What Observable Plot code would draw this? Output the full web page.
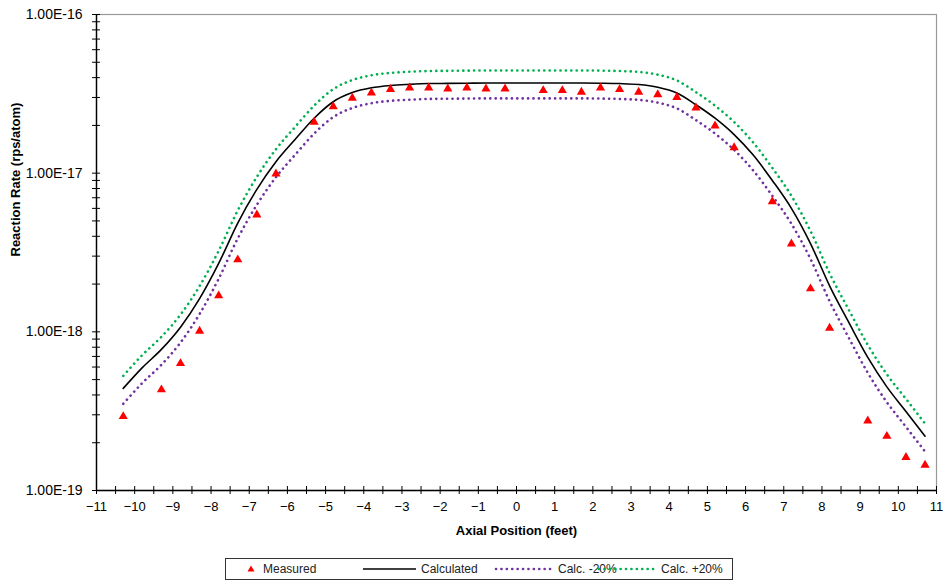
<!DOCTYPE html>
<html><head><meta charset="utf-8">
<script src="https://cdn.jsdelivr.net/npm/d3@7"></script>
<script src="https://cdn.jsdelivr.net/npm/@observablehq/plot@0.6"></script>
<style>
body{margin:0;background:#fff;font-family:"Liberation Sans",Arial,sans-serif;}
#wrap{position:relative;width:945px;height:581px;overflow:hidden;}
#legend{position:absolute;left:225px;top:558px;width:508px;height:22px;border:1px solid #333;box-sizing:border-box;font-size:12px;color:#222;}
#legend .t{position:absolute;top:3px;line-height:14px;white-space:nowrap;}
#legend svg{position:absolute;top:0;}
</style></head>
<body><div id="wrap"><div id="chart"></div>
<div id="legend">
  <svg style="left:18px" width="14" height="20"><path d="M7,6.5 L10.5,12.5 L3.5,12.5 Z" fill="#ff0000"/></svg>
  <span class="t" style="left:37px">Measured</span>
  <svg style="left:137px" width="54" height="20"><line x1="0" y1="10" x2="53" y2="10" stroke="#000" stroke-width="1.6"/></svg>
  <span class="t" style="left:195px">Calculated</span>
  <svg style="left:268px" width="60" height="20"><line x1="2" y1="10" x2="58" y2="10" stroke="#7030a0" stroke-width="2.6" stroke-dasharray="0.1,5.3" stroke-linecap="round"/></svg>
  <span class="t" style="left:332px">Calc. -20%</span>
  <svg style="left:371px" width="62" height="20"><line x1="2" y1="10" x2="60" y2="10" stroke="#00b050" stroke-width="2.6" stroke-dasharray="0.1,5.3" stroke-linecap="round"/></svg>
  <span class="t" style="left:435px">Calc. +20%</span>
</div></div>
<script>
// Measured data
const measuredX = [-10.3,-9.3,-8.8,-8.3,-7.8,-7.3,-6.8,-6.3,-5.3,-4.8,-4.3,-3.8,-3.3,-2.8,-2.3,-1.8,-1.3,-0.8,-0.3,0.7,1.2,1.7,2.2,2.7,3.2,3.7,4.2,4.7,5.2,5.7,6.7,7.2,7.7,8.2,9.2,9.7,10.2,10.7];
const measuredY = [2.93e-19,4.32e-19,6.32e-19,1.01e-18,1.69e-18,2.85e-18,5.47e-18,9.91e-18,2.10e-17,2.63e-17,2.97e-17,3.21e-17,3.38e-17,3.45e-17,3.45e-17,3.40e-17,3.45e-17,3.40e-17,3.40e-17,3.32e-17,3.32e-17,3.24e-17,3.45e-17,3.37e-17,3.24e-17,3.13e-17,3.01e-17,2.58e-17,1.99e-17,1.45e-17,6.63e-18,3.59e-18,1.87e-18,1.055e-18,2.75e-19,2.20e-19,1.62e-19,1.445e-19];

// Calculated curves
const calcX = [-10.3,-9.8,-9.3,-8.8,-8.3,-7.8,-7.3,-6.8,-6.3,-5.8,-5.3,-4.8,-4.3,-3.8,-3.3,-2.8,-2.3,-1.8,-1.3,-0.8,-0.3,0.2,0.7,1.2,1.7,2.2,2.7,3.2,3.7,4.2,4.7,5.2,5.7,6.2,6.7,7.2,7.7,8.2,8.7,9.2,9.7,10.2,10.7];
const calcY = [4.40e-19,5.95e-19,7.75e-19,1.07e-18,1.62e-18,2.70e-18,4.85e-18,7.90e-18,1.18e-17,1.63e-17,2.22e-17,2.82e-17,3.22e-17,3.45e-17,3.57e-17,3.63e-17,3.67e-17,3.68e-17,3.69e-17,3.70e-17,3.70e-17,3.70e-17,3.70e-17,3.70e-17,3.70e-17,3.69e-17,3.67e-17,3.62e-17,3.48e-17,3.20e-17,2.70e-17,2.22e-17,1.75e-17,1.30e-17,9.0e-18,6.0e-18,3.6e-18,1.95e-18,1.15e-18,6.9e-19,4.5e-19,3.15e-19,2.2e-19];
const calcMinusY = [3.52e-19,4.76e-19,6.20e-19,8.56e-19,1.296e-18,2.16e-18,3.88e-18,6.32e-18,9.44e-18,1.304e-17,1.776e-17,2.256e-17,2.576e-17,2.76e-17,2.856e-17,2.904e-17,2.936e-17,2.944e-17,2.952e-17,2.96e-17,2.96e-17,2.96e-17,2.96e-17,2.96e-17,2.96e-17,2.952e-17,2.936e-17,2.896e-17,2.784e-17,2.56e-17,2.16e-17,1.776e-17,1.40e-17,1.04e-17,7.2e-18,4.8e-18,2.88e-18,1.56e-18,9.2e-19,5.52e-19,3.6e-19,2.52e-19,1.76e-19];
const calcPlusY = [5.28e-19,7.14e-19,9.30e-19,1.284e-18,1.944e-18,3.24e-18,5.82e-18,9.48e-18,1.416e-17,1.956e-17,2.664e-17,3.384e-17,3.864e-17,4.14e-17,4.284e-17,4.356e-17,4.404e-17,4.416e-17,4.428e-17,4.44e-17,4.44e-17,4.44e-17,4.44e-17,4.44e-17,4.44e-17,4.428e-17,4.404e-17,4.344e-17,4.176e-17,3.84e-17,3.24e-17,2.664e-17,2.10e-17,1.56e-17,1.08e-17,7.2e-18,4.32e-18,2.34e-18,1.38e-18,8.28e-19,5.4e-19,3.78e-19,2.64e-19];

// Ticks
const xMajorTicks = [-11,-10,-9,-8,-7,-6,-5,-4,-3,-2,-1,0,1,2,3,4,5,6,7,8,9,10,11];
const xMinorTicks = [-10.5,-9.5,-8.5,-7.5,-6.5,-5.5,-4.5,-3.5,-2.5,-1.5,-0.5,0.5,1.5,2.5,3.5,4.5,5.5,6.5,7.5,8.5,9.5,10.5];
const yMajorTicks = [1e-19,1e-18,1e-17,1e-16];
const yMinorMultipliers = [2,3,4,5,6,7,8,9];

const measured = measuredX.map((x, i) => ({x, y: measuredY[i]}));
const calc = calcX.map((x, i) => ({x, y: calcY[i]}));
const calcMinus = calcX.map((x, i) => ({x, y: calcMinusY[i]}));
const calcPlus = calcX.map((x, i) => ({x, y: calcPlusY[i]}));
const yMinorTicks = yMajorTicks.slice(0, 3).flatMap(d => yMinorMultipliers.map(m => d * m));

const dotted = {strokeWidth: 2.6, strokeDasharray: "0.1,5.3", strokeLinecap: "round", curve: "monotone-x"};

const chart = Plot.plot({
  width: 945,
  height: 550,
  marginLeft: 96,
  marginRight: 9,
  marginTop: 14,
  marginBottom: 60,
  style: {fontFamily: "'Liberation Sans', Arial, sans-serif", fontSize: "13px", color: "#000", background: "#fff", overflow: "visible"},
  x: {domain: [-11, 11], axis: null},
  y: {type: "log", domain: [1e-19, 1e-16], axis: null},
  marks: [
    Plot.frame({stroke: "#999", strokeWidth: 1.2}),
    Plot.ruleX([-11], {stroke: "#000", strokeWidth: 1.4}),
    Plot.ruleY([1e-19], {stroke: "#000", strokeWidth: 1.4}),
    Plot.axisX([...xMajorTicks, ...xMinorTicks], {tickSize: 8, dy: -4, tickFormat: () => "", label: null, stroke: "#000"}),
    Plot.axisX(xMajorTicks, {tickSize: 0, tickPadding: 11, label: null, fontSize: 13, fill: "#000"}),
    Plot.axisY([...yMajorTicks, ...yMinorTicks], {tickSize: 8, dx: 4, tickFormat: () => "", label: null, stroke: "#000"}),
    Plot.axisY(yMajorTicks, {tickSize: 0, tickPadding: 14, label: null, fontSize: 14, fill: "#000",
      tickFormat: d => d.toExponential(2).toUpperCase()}),
    Plot.text(["Axial Position (feet)"], {frameAnchor: "bottom", dy: 44, fontWeight: "bold", fontSize: 13, fill: "#000"}),
    Plot.text(["Reaction Rate (rps/atom)"], {frameAnchor: "left", dx: -81, dy: 4, rotate: -90, fontWeight: "bold", fontSize: 13, fill: "#000"}),
    Plot.line(calcMinus, {x: "x", y: "y", stroke: "#7030a0", ...dotted}),
    Plot.line(calcPlus, {x: "x", y: "y", stroke: "#00b050", ...dotted}),
    Plot.line(calc, {x: "x", y: "y", stroke: "#000", strokeWidth: 1.6, curve: "monotone-x"}),
    Plot.dot(measured, {x: "x", y: "y", symbol: "triangle", r: 3.4, fill: "#ff0000", stroke: "none"})
  ]
});
document.getElementById("chart").appendChild(chart);
</script>
</body></html>
